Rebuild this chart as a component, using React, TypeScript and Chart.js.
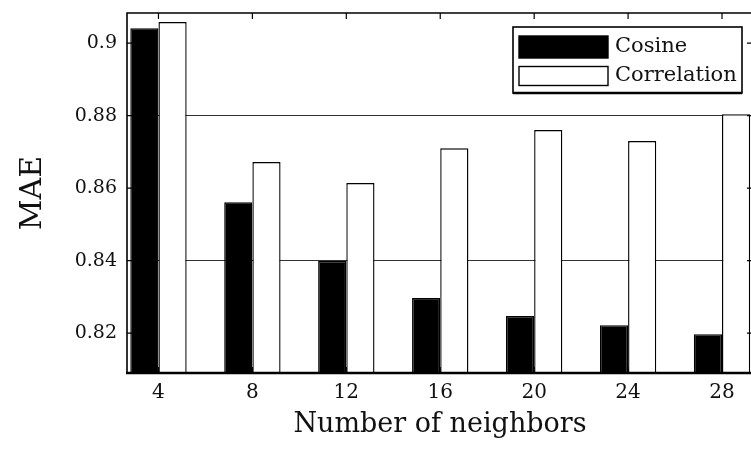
import React, { useEffect, useRef } from 'react';
import { Chart, registerables } from 'chart.js';

Chart.register(...registerables);

const neighbors = [4, 8, 12, 16, 20, 24, 28];
const cosine = [0.9041, 0.8561, 0.8399, 0.8297, 0.8247, 0.8222, 0.8197];
const correlation = [0.9058, 0.8672, 0.8614, 0.871, 0.876, 0.873, 0.8804];
const seriesLabels = ['Cosine', 'Correlation'];
const xTicks = [4, 8, 12, 16, 20, 24, 28];
const xTickLabels = ['4', '8', '12', '16', '20', '24', '28'];
const yTicks = [0.82, 0.84, 0.86, 0.88, 0.9];
const yTickLabels = ['0.82', '0.84', '0.86', '0.88', '0.9'];
const gridValues = [0.84, 0.88];

const FONT = "'DejaVu Serif', serif";

const framePlugin = {
  id: 'frame',
  afterDatasetsDraw(chart: any) {
    const { ctx, chartArea, scales } = chart;
    const { left, right, top, bottom } = chartArea;
    const x = scales.x;
    const y = scales.y;
    ctx.save();
    ctx.strokeStyle = '#000';
    ctx.lineWidth = 1.6;
    ctx.beginPath();
    ctx.moveTo(left, bottom);
    ctx.lineTo(left, top);
    ctx.lineTo(right, top);
    ctx.lineTo(right, bottom);
    ctx.stroke();
    ctx.lineWidth = 2.6;
    ctx.beginPath();
    ctx.moveTo(left - 1, bottom);
    ctx.lineTo(right, bottom);
    ctx.stroke();
    const len = 6;
    ctx.lineWidth = 1.2;
    ctx.beginPath();
    x.ticks.forEach((t: any) => {
      const px = x.getPixelForValue(t.value);
      ctx.moveTo(px, top);
      ctx.lineTo(px, top + len);
      ctx.moveTo(px, bottom);
      ctx.lineTo(px, bottom - len);
    });
    y.ticks.forEach((t: any) => {
      const py = y.getPixelForValue(t.value);
      ctx.moveTo(left, py);
      ctx.lineTo(left + len, py);
      ctx.moveTo(right, py);
      ctx.lineTo(right - len, py);
    });
    ctx.stroke();
    ctx.restore();
  },
};

const legendPlugin = {
  id: 'insideLegend',
  afterDraw(chart: any) {
    const { ctx, chartArea } = chart;
    const bx = chartArea.right - 240;
    const by = chartArea.top + 14;
    const bw = 229;
    const bh = 66;
    ctx.save();
    ctx.fillStyle = '#fff';
    ctx.fillRect(bx, by, bw, bh);
    ctx.strokeStyle = '#000';
    ctx.lineWidth = 1.6;
    ctx.strokeRect(bx, by, bw, bh);
    ctx.lineWidth = 2.4;
    ctx.beginPath();
    ctx.moveTo(bx, by + bh);
    ctx.lineTo(bx + bw, by + bh);
    ctx.stroke();
    ctx.font = `21px ${FONT}`;
    ctx.textBaseline = 'middle';
    ctx.textAlign = 'left';
    chart.data.datasets.forEach((ds: any, i: number) => {
      const rowY = by + 20 + i * 29;
      const sx = bx + 6;
      const sw = 89;
      const sh = i === 0 ? 22 : 19;
      ctx.fillStyle = ds.backgroundColor;
      ctx.fillRect(sx, rowY - sh / 2, sw, sh);
      ctx.lineWidth = 1.4;
      ctx.strokeStyle = ds.borderColor;
      ctx.strokeRect(sx, rowY - sh / 2, sw, sh);
      ctx.fillStyle = '#111';
      ctx.fillText(ds.label, bx + 102, rowY);
    });
    ctx.restore();
  },
};

export default function App() {
  const canvasRef = useRef<HTMLCanvasElement | null>(null);

  useEffect(() => {
    if (!canvasRef.current) return;
    const chart = new Chart(canvasRef.current, {
      type: 'bar',
      data: {
        datasets: [
          {
            label: seriesLabels[0],
            data: neighbors.map((n, i) => ({ x: n, y: cosine[i] })),
            backgroundColor: '#000',
            borderColor: '#000',
            borderWidth: 1.4,
          },
          {
            label: seriesLabels[1],
            data: neighbors.map((n, i) => ({ x: n, y: correlation[i] })),
            backgroundColor: '#fff',
            borderColor: '#000',
            borderWidth: 1.4,
          },
        ],
      },
      options: {
        animation: false,
        responsive: false,
        maintainAspectRatio: false,
        layout: { padding: { top: 13, right: 3, left: 0, bottom: 0 } },
        datasets: {
          bar: { categoryPercentage: 0.6, barPercentage: 1.0 },
        },
        plugins: {
          legend: { display: false },
          tooltip: { enabled: false },
        },
        scales: {
          x: {
            type: 'linear',
            offset: false,
            min: 2.66,
            max: 29.32,
            afterBuildTicks: (scale: any) => {
              scale.ticks = xTicks.map((v) => ({ value: v }));
            },
            afterFit: (scale: any) => {
              scale.height = 77;
              scale.paddingLeft = 0;
              scale.paddingRight = 0;
            },
            grid: { display: false, drawTicks: false },
            border: { display: false },
            ticks: {
              padding: 8,
              color: '#111',
              font: { family: FONT, size: 20 },
              maxRotation: 0,
              autoSkip: false,
              callback: (_v: any, i: number) => xTickLabels[i],
            },
            title: {
              display: true,
              text: 'Number of neighbors',
              color: '#111',
              font: { family: FONT, size: 27 },
              padding: { top: 0, bottom: 9 },
            },
          },
          y: {
            type: 'linear',
            min: 0.809,
            max: 0.9083,
            afterBuildTicks: (scale: any) => {
              scale.ticks = yTicks.map((v) => ({ value: v }));
            },
            afterFit: (scale: any) => {
              scale.width = 127;
              scale.paddingTop = 0;
              scale.paddingBottom = 0;
            },
            grid: {
              drawTicks: false,
              lineWidth: 1,
              color: (ctx: any) =>
                ctx.tick && gridValues.some((g) => Math.abs(ctx.tick.value - g) < 1e-6)
                  ? '#333'
                  : 'rgba(0,0,0,0)',
            },
            border: { display: false },
            ticks: {
              padding: 10,
              color: '#111',
              font: { family: FONT, size: 19 },
              autoSkip: false,
              callback: (_v: any, i: number) => yTickLabels[i],
            },
            title: {
              display: true,
              text: 'MAE',
              color: '#111',
              font: { family: FONT, size: 30 },
              padding: { top: 15, bottom: 0 },
            },
          },
        },
      },
      plugins: [framePlugin, legendPlugin],
    } as any);
    return () => chart.destroy();
  }, []);

  return (
    <div
      style={{
        position: 'fixed',
        left: 0,
        top: 0,
        width: 751,
        height: 450,
        overflow: 'hidden',
        background: '#fff',
      }}
    >
      <canvas ref={canvasRef} width={756} height={450} style={{ display: 'block' }} />
    </div>
  );
}
